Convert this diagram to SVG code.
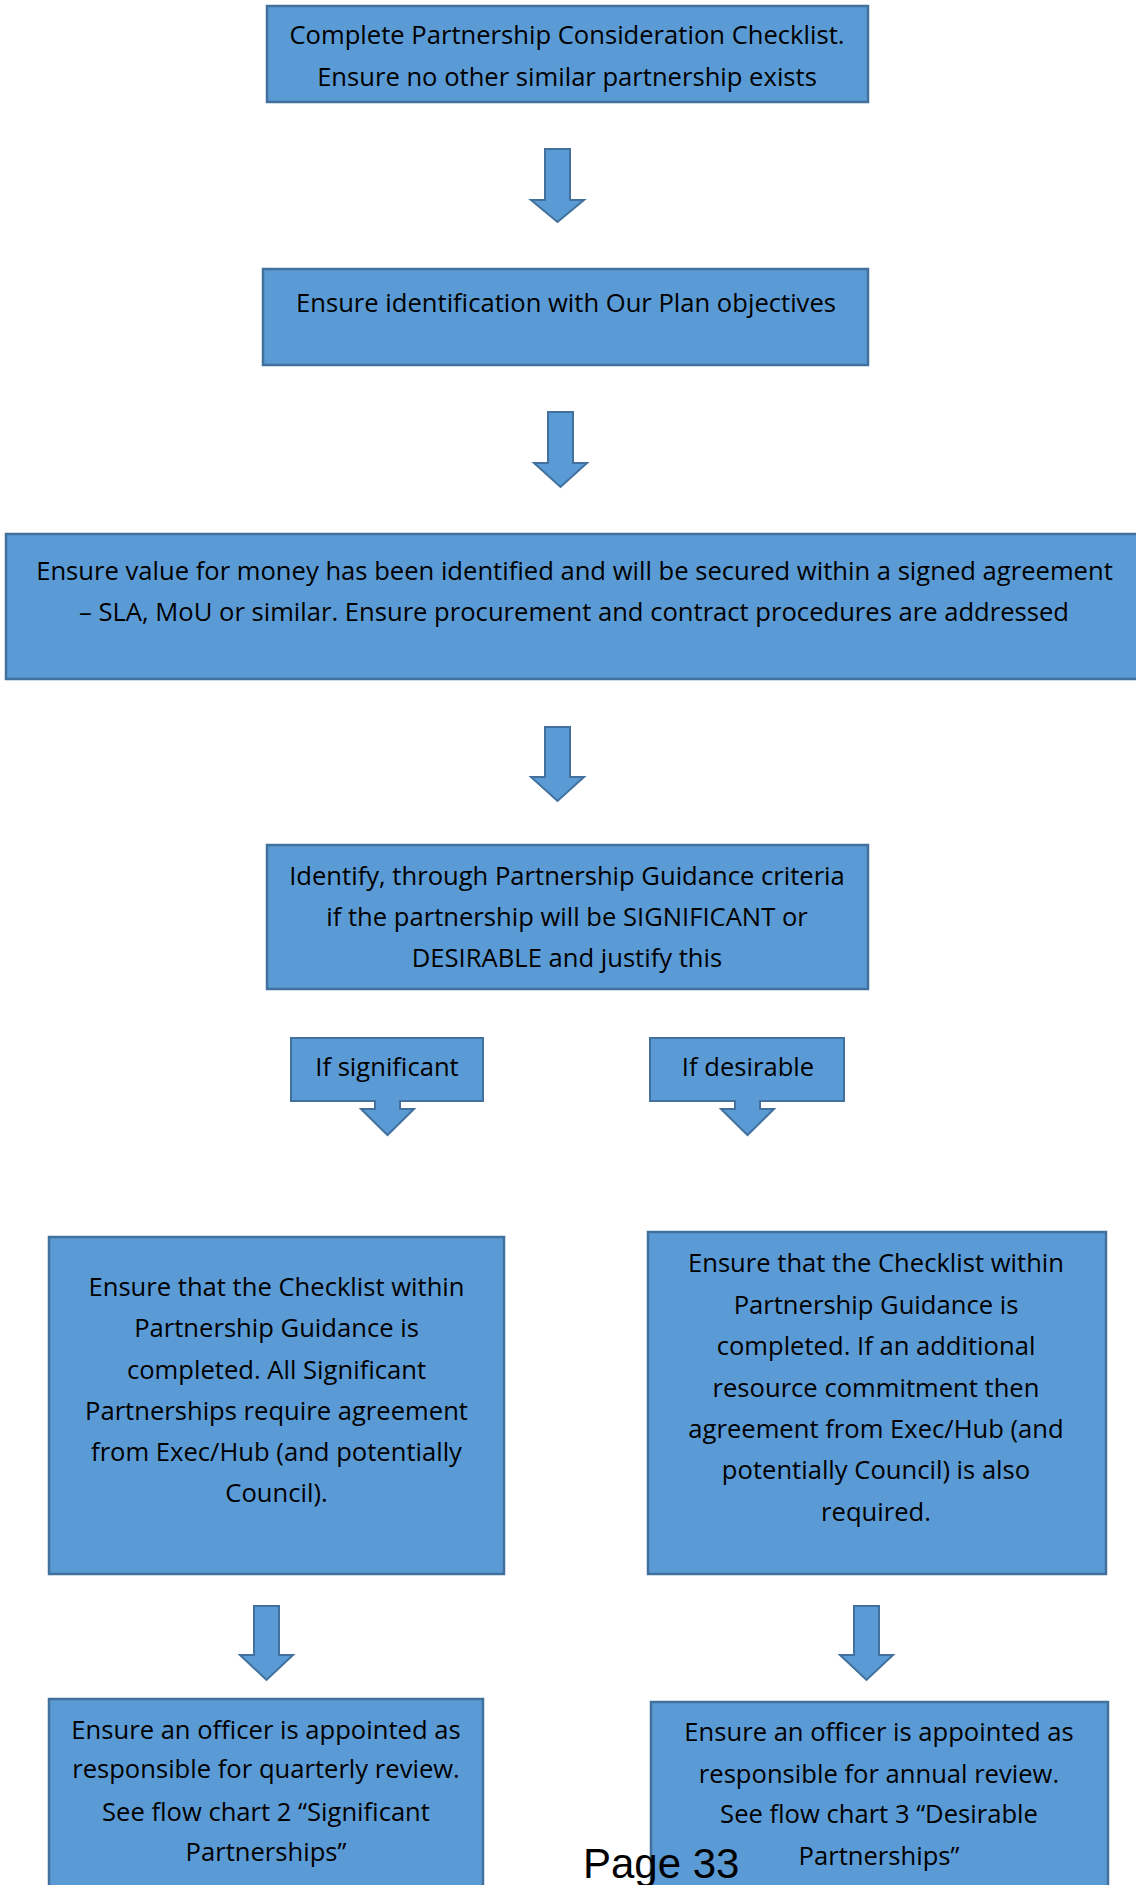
<svg xmlns="http://www.w3.org/2000/svg" width="1136" height="1885" viewBox="0 0 1136 1885">
<style>
.box{fill:#5B9BD5;stroke:#41719C;stroke-width:2.5}
.arr{fill:#5B9BD5;stroke:#41719C;stroke-width:2;stroke-linejoin:miter}
.t{font-family:"Open Sans",Lato,"Liberation Sans",sans-serif;font-size:25.6px;fill:#000;text-anchor:middle}
.pg{font-family:"Liberation Sans",Arial,sans-serif;font-size:42px;fill:#000}
</style>
<rect width="1136" height="1885" fill="#fff"/>
<g id="connectors">
<path class="arr" d="M545,149 H570 V200 H584 L557.5,222 L531,200 H545 Z"/>
<path class="arr" d="M548,412 H573 V463 H587 L560.5,487 L534,463 H548 Z"/>
<path class="arr" d="M545,727 H570 V777 H584 L557.5,801 L531,777 H545 Z"/>
<path class="arr" d="M254,1606 H279 V1655 H293 L266.5,1680 L240,1655 H254 Z"/>
<path class="arr" d="M854,1606 H879 V1655 H893 L866.5,1680 L840,1655 H854 Z"/>
</g>
<g id="n1">
<rect class="box" x="267" y="6" width="601" height="96"/>
<text class="t" x="567" y="44">Complete Partnership Consideration Checklist.</text>
<text class="t" x="567" y="86">Ensure no other similar partnership exists</text>
</g>
<g id="n2">
<rect class="box" x="263" y="269" width="605" height="96"/>
<text class="t" x="566" y="312">Ensure identification with Our Plan objectives</text>
</g>
<g id="n3">
<rect class="box" x="6" y="534" width="1140" height="145"/>
<text class="t" x="574.5" y="580">Ensure value for money has been identified and will be secured within a signed agreement</text>
<text class="t" x="574" y="621">– SLA, MoU or similar. Ensure procurement and contract procedures are addressed</text>
</g>
<g id="n4">
<rect class="box" x="267" y="845" width="601" height="144"/>
<text class="t" x="567" y="885">Identify, through Partnership Guidance criteria</text>
<text class="t" x="567" y="926">if the partnership will be SIGNIFICANT or</text>
<text class="t" x="567" y="967">DESIRABLE and justify this</text>
</g>
<g id="n5">
<path class="arr" d="M291,1038 H483 V1101 H400 V1109 H414 L387.5,1135 L361,1109 H375 V1101 H291 Z"/>
<text class="t" x="387" y="1076">If significant</text>
</g>
<g id="n6">
<path class="arr" d="M650,1038 H844 V1101 H760 V1109 H774 L747.5,1135 L721,1109 H735 V1101 H650 Z"/>
<text class="t" x="748" y="1076">If desirable</text>
</g>
<g id="n7">
<rect class="box" x="49" y="1237" width="455" height="337"/>
<text class="t" x="276.5" y="1296">Ensure that the Checklist within</text>
<text class="t" x="276.5" y="1337">Partnership Guidance is</text>
<text class="t" x="276.5" y="1379">completed. All Significant</text>
<text class="t" x="276.5" y="1420">Partnerships require agreement</text>
<text class="t" x="276.5" y="1461">from Exec/Hub (and potentially</text>
<text class="t" x="276.5" y="1502">Council).</text>
</g>
<g id="n8">
<rect class="box" x="648" y="1232" width="458" height="342"/>
<text class="t" x="876" y="1272">Ensure that the Checklist within</text>
<text class="t" x="876" y="1314">Partnership Guidance is</text>
<text class="t" x="876" y="1355">completed. If an additional</text>
<text class="t" x="876" y="1397">resource commitment then</text>
<text class="t" x="876" y="1438">agreement from Exec/Hub (and</text>
<text class="t" x="876" y="1479">potentially Council) is also</text>
<text class="t" x="876" y="1521">required.</text>
</g>
<g id="n9">
<rect class="box" x="49" y="1699" width="434" height="200"/>
<text class="t" x="266" y="1739">Ensure an officer is appointed as</text>
<text class="t" x="266" y="1778">responsible for quarterly review.</text>
<text class="t" x="266" y="1821">See flow chart 2 “Significant</text>
<text class="t" x="266" y="1861">Partnerships”</text>
</g>
<g id="n10">
<rect class="box" x="651" y="1702" width="457" height="200"/>
<text class="t" x="879" y="1741">Ensure an officer is appointed as</text>
<text class="t" x="879" y="1783">responsible for annual review.</text>
<text class="t" x="879" y="1823">See flow chart 3 “Desirable</text>
<text class="t" x="879" y="1865">Partnerships”</text>
</g>
<text class="pg" x="583" y="1878">Page 33</text>
</svg>
